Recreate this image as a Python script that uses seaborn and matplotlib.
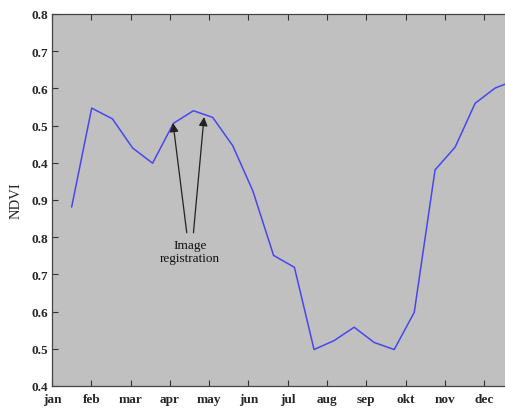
import matplotlib
matplotlib.use("Agg")
import matplotlib.pyplot as plt
import seaborn as sns
import pandas as pd

# data (x in months from jan=0, y on the plotted scale)
month_pos = [0.50, 1.01, 1.54, 2.05, 2.56, 3.09, 3.60, 4.09, 4.60, 5.11, 5.64,
             6.17, 6.67, 7.18, 7.69, 8.20, 8.71, 9.22, 9.75, 10.26, 10.77, 11.28, 11.55]
ndvi = [0.881, 1.147, 1.118, 1.040, 0.999, 1.106, 1.140, 1.122, 1.046, 0.925, 0.751,
        0.719, 0.498, 0.522, 0.558, 0.517, 0.498, 0.598, 0.981, 1.042, 1.160, 1.201, 1.212]
month_labels = ["jan", "feb", "mar", "apr", "may", "jun", "jul", "aug", "sep", "okt", "nov", "dec"]
ytick_vals = [0.4, 0.5, 0.6, 0.7, 0.8, 0.9, 1.0, 1.1, 1.2, 1.3, 1.4]
ytick_labels = ["0.4", "0.5", "0.6", "0.7", "0.8", "0.9", "0.4", "0.5", "0.6", "0.7", "0.8"]
annot_text = "Image\nregistration"
annot_targets = [(3.08, 1.107), (3.87, 1.123)]

sns.set_style("white")
plt.rcParams["font.family"] = ["Liberation Serif", "DejaVu Serif"]

df = pd.DataFrame({"month": month_pos, "ndvi": ndvi})

fig = plt.figure(figsize=(5.05, 4.10), dpi=100)
ax = fig.add_axes([52 / 505, 23 / 410, 1 - 52 / 505, 372 / 410])
ax.set_facecolor("#c0c0c0")

sns.lineplot(data=df, x="month", y="ndvi", ax=ax, color="#4747f0", linewidth=1.1)

ax.set_xlim(0, 11.53)
ax.set_ylim(0.4, 1.4)
ax.set_xticks(range(12))
ax.set_xticklabels(month_labels, fontsize=9.5, fontweight="bold")
ax.set_yticks(ytick_vals)
ax.set_yticklabels(ytick_labels, fontsize=9.5, fontweight="bold")
ax.tick_params(axis="both", direction="in", length=4, width=0.8, color="#333333",
               top=True, bottom=True, left=True, right=False, pad=3)
ax.tick_params(axis="x", pad=5)
ax.set_xlabel("")
ax.set_ylabel("NDVI", fontsize=10.5, labelpad=6)

for side in ["left", "top", "bottom"]:
    ax.spines[side].set_color("#444444")
    ax.spines[side].set_linewidth(0.9)
ax.spines["right"].set_visible(False)

tails = [(3.43, 0.812), (3.60, 0.812)]
for (tx, ty), (hx, hy) in zip(tails, annot_targets):
    ax.annotate("", xy=(hx, hy), xytext=(tx, ty),
                arrowprops=dict(arrowstyle="-|>", color="#222222", lw=0.9,
                                mutation_scale=13, shrinkA=0, shrinkB=0))
ax.text(3.52, 0.795, annot_text, ha="center", va="top", fontsize=9.5,
        linespacing=1.1, color="#111111")

fig.savefig("out.png", dpi=100, facecolor="white")
